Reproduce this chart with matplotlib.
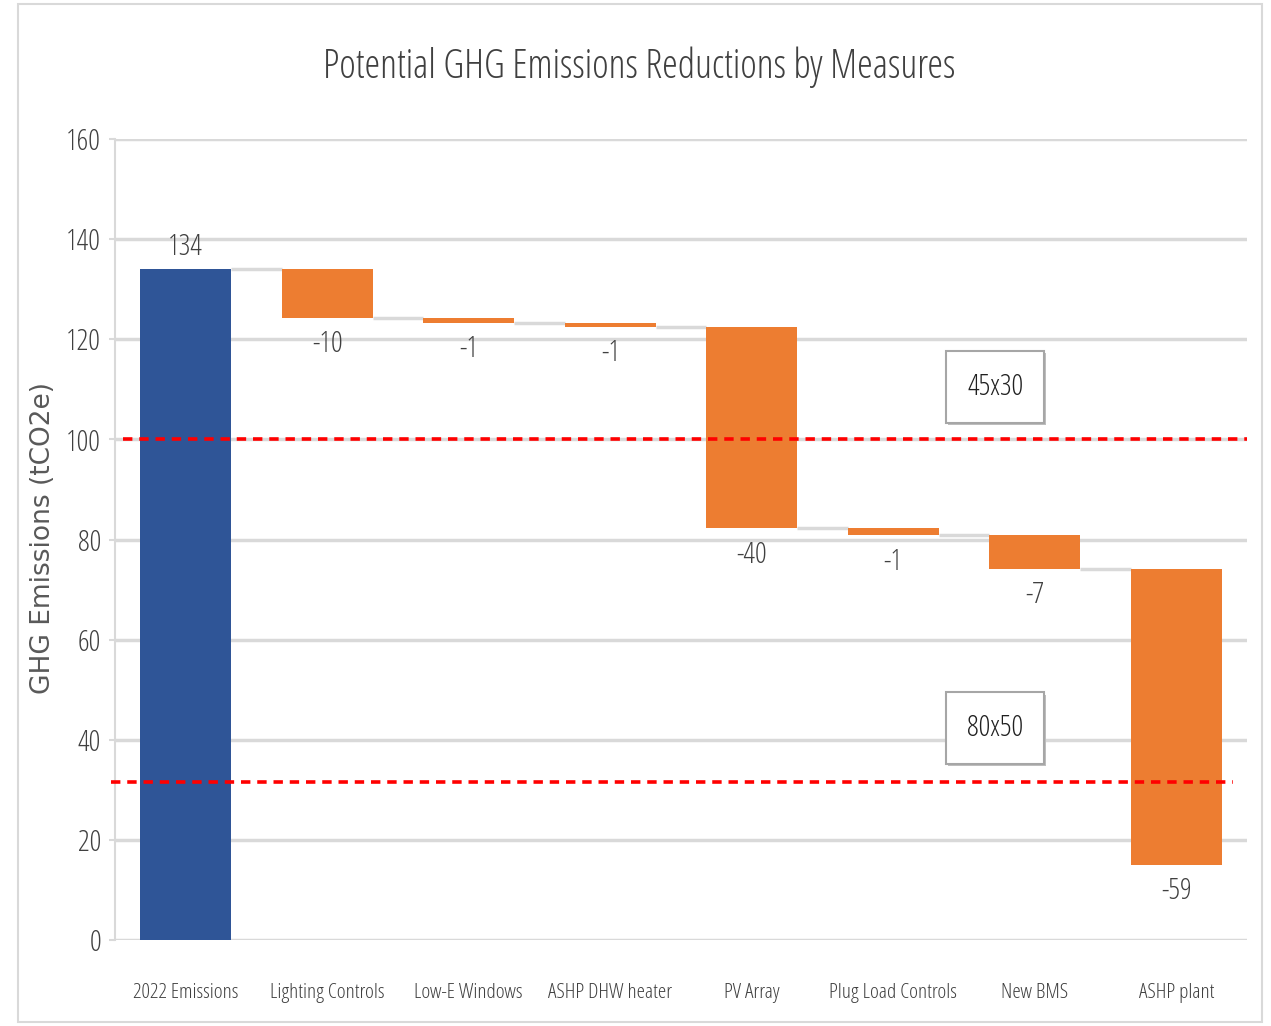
import matplotlib
matplotlib.use("Agg")
import matplotlib.pyplot as plt
from matplotlib.patches import Rectangle
import matplotlib.patheffects as pe
from matplotlib import font_manager
from matplotlib.font_manager import FontProperties

categories = ["2022 Emissions", "Lighting Controls", "Low-E Windows", "ASHP DHW heater",
              "PV Array", "Plug Load Controls", "New BMS", "ASHP plant"]
changes = [134.0, -9.8, -0.9, -0.9, -40.2, -1.4, -6.7, -59.1]
target_lines = [100.0, 31.5]
target_labels = ["45x30", "80x50"]
target_label_y = [110.5, 42.3]
yticks = [0, 20, 40, 60, 80, 100, 120, 140, 160]


def pick_font():
    for f in font_manager.fontManager.ttflist:
        if f.fname.endswith("OpenSans-CondLight.ttf"):
            return f.fname
    return None


FPATH = pick_font()


def fp(size):
    if FPATH:
        return FontProperties(fname=FPATH, size=size)
    return FontProperties(family=["Roboto Condensed", "Carlito", "DejaVu Sans"], size=size)


BLUE = "#2F5597"
ORANGE = "#ED7D31"
GRID = "#D9D9D9"
TXT = "#404040"

fig = plt.figure(figsize=(12.71, 10.26), dpi=100)
fig.patches.append(Rectangle((18 / 1271, 4 / 1026), 1244 / 1271, 1018 / 1026,
                             transform=fig.transFigure, fill=False,
                             edgecolor=GRID, lw=1.5, zorder=0))
ax = fig.add_axes([115 / 1271, 1 - 940 / 1026, 1132 / 1271, 801 / 1026])

width = 0.645
running = 0.0
tops = []
for i, (c, v) in enumerate(zip(categories, changes)):
    if i == 0:
        ax.bar(i, v, width=width, color=BLUE, zorder=3)
        ax.annotate(f"{v:.0f}", (i, v), xytext=(0, 16), textcoords="offset points",
                    ha="center", va="center", fontproperties=fp(21), color=TXT)
        running = v
    else:
        ax.bar(i, v, bottom=running, width=width, color=ORANGE, zorder=3)
        newv = running + v
        ax.annotate(f"{v:.0f}", (i, newv), xytext=(0, -19), textcoords="offset points",
                    ha="center", va="center", fontproperties=fp(21), color=TXT)
        running = newv
    tops.append(running)

# connectors
for i in range(len(categories) - 1):
    ax.plot([i + width / 2, i + 1 - width / 2], [tops[i], tops[i]],
            color=GRID, lw=2.5, zorder=2, solid_capstyle="butt")

# target lines
ax.axhline(target_lines[0], xmin=0.007, xmax=1.0, color="#FF0000", lw=2.6,
           dashes=(2.6, 1.9), zorder=4)
ax.plot([-0.53, 7.4], [target_lines[1]] * 2, color="#FF0000", lw=2.6,
        dashes=(2.6, 1.9), zorder=4, clip_on=False)

for lab, ly in zip(target_labels, target_label_y):
    t = ax.text(5.72, ly, lab, ha="center", va="center", fontproperties=fp(21),
                color="#202020", zorder=5,
                bbox=dict(boxstyle="square,pad=0.72", facecolor="white",
                          edgecolor="#A6A6A6", lw=1.5))
    t.get_bbox_patch().set_path_effects([pe.SimplePatchShadow(offset=(1.5, -1.5),
                                                               shadow_rgbFace="#BFBFBF", alpha=1),
                                         pe.Normal()])

ax.set_xlim(-0.5, len(categories) - 0.5)
ax.set_ylim(0, 160)
ax.set_yticks(yticks)
ax.set_yticklabels([str(t) for t in yticks], fontproperties=fp(21), color=TXT)
ax.set_xticks(range(len(categories)))
ax.set_xticklabels(categories, fontproperties=fp(15.3), color=TXT)
ax.tick_params(axis="x", length=0, pad=31)
ax.tick_params(axis="y", length=4, color=GRID, width=1.5, pad=6)
ax.grid(axis="y", color=GRID, lw=2.5, zorder=0)
ax.set_axisbelow(True)
for s in ["top", "right", "bottom"]:
    ax.spines[s].set_visible(False)
ax.spines["left"].set_color(GRID)
ax.spines["left"].set_linewidth(1.5)

ax.set_ylabel("GHG Emissions (tCO2e)", fontsize=19, color="#595959", family="DejaVu Sans")
ax.yaxis.set_label_coords(-0.052, 0.502)
fig.text(0.503, 1 - 67 / 1026, "Potential GHG Emissions Reductions by Measures",
         ha="center", va="center", fontproperties=fp(28.5), color=TXT)

fig.savefig("out.png", dpi=100)
